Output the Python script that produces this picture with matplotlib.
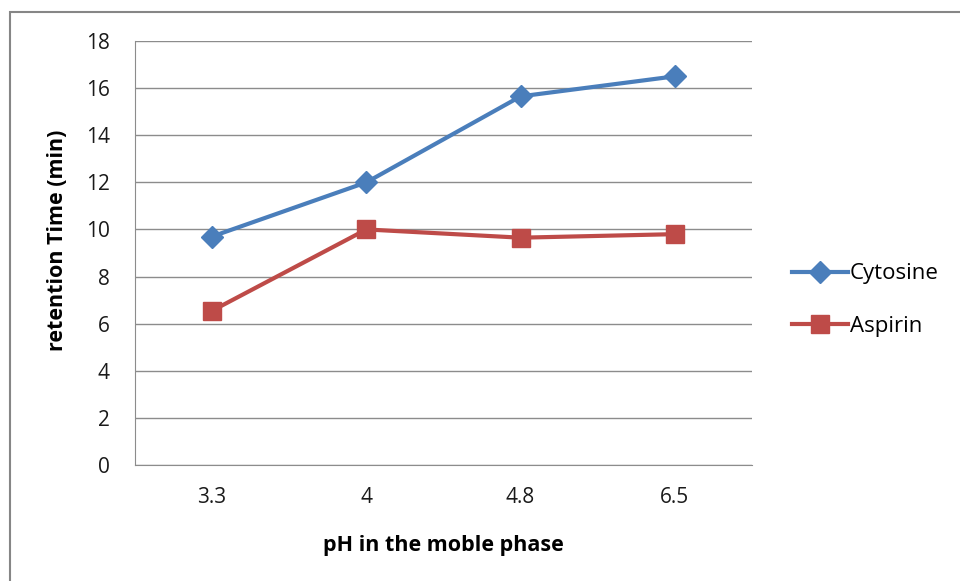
import matplotlib
matplotlib.use("Agg")
import matplotlib.pyplot as plt
from matplotlib.patches import Rectangle

categories = ["3.3", "4", "4.8", "6.5"]
cytosine = [9.7, 12.0, 15.65, 16.5]
aspirin = [6.55, 10.0, 9.65, 9.8]
y_ticks = [0, 2, 4, 6, 8, 10, 12, 14, 16, 18]

plt.rcParams['font.family'] = ['Open Sans', 'DejaVu Sans']

W, H = 960, 581
fig = plt.figure(figsize=(W/100, H/100), dpi=100)
fig.patches.append(Rectangle((10/W, -0.5), 2, 1.5 - 12/H, transform=fig.transFigure,
                             fill=False, edgecolor='#868686', linewidth=1.5))

ax = fig.add_axes([135/W, 1-465/H, (752-135)/W, (465-41)/H])
x = list(range(len(categories)))
ax.plot(x, cytosine, color='#4A7EBB', linewidth=3, marker='D', markersize=11,
        label='Cytosine')
ax.plot(x, aspirin, color='#BE4B48', linewidth=3, marker='s', markersize=13,
        label='Aspirin')

ax.set_xlim(-0.5, len(categories)-0.5)
ax.set_ylim(0, 18)
ax.set_yticks(y_ticks)
ax.set_xticks(x)
ax.set_xticklabels(categories)
ax.tick_params(length=0, labelsize=15, colors='#1a1a1a')
ax.tick_params(axis='y', pad=18)
ax.tick_params(axis='x', pad=16)
ax.grid(axis='y', color='#8c8c8c', linewidth=1)
ax.set_axisbelow(True)
for s in ['top', 'right']:
    ax.spines[s].set_visible(False)
for s in ['left', 'bottom']:
    ax.spines[s].set_color('#8c8c8c')
ax.set_xlabel('pH in the moble phase', fontsize=15.5, fontweight='bold', labelpad=19)
ax.set_ylabel('retention Time (min)', fontsize=15.5, fontweight='bold')
ax.yaxis.set_label_coords(-0.108, 0.53)

fig.legend(*ax.get_legend_handles_labels(), loc='center left',
           bbox_to_anchor=(792/W, 1-300/H), bbox_transform=fig.transFigure,
           frameon=False, fontsize=16, handlelength=2.5, labelspacing=1.4,
           handletextpad=0.1, borderpad=0, borderaxespad=0)

fig.savefig('out.png', dpi=100)
